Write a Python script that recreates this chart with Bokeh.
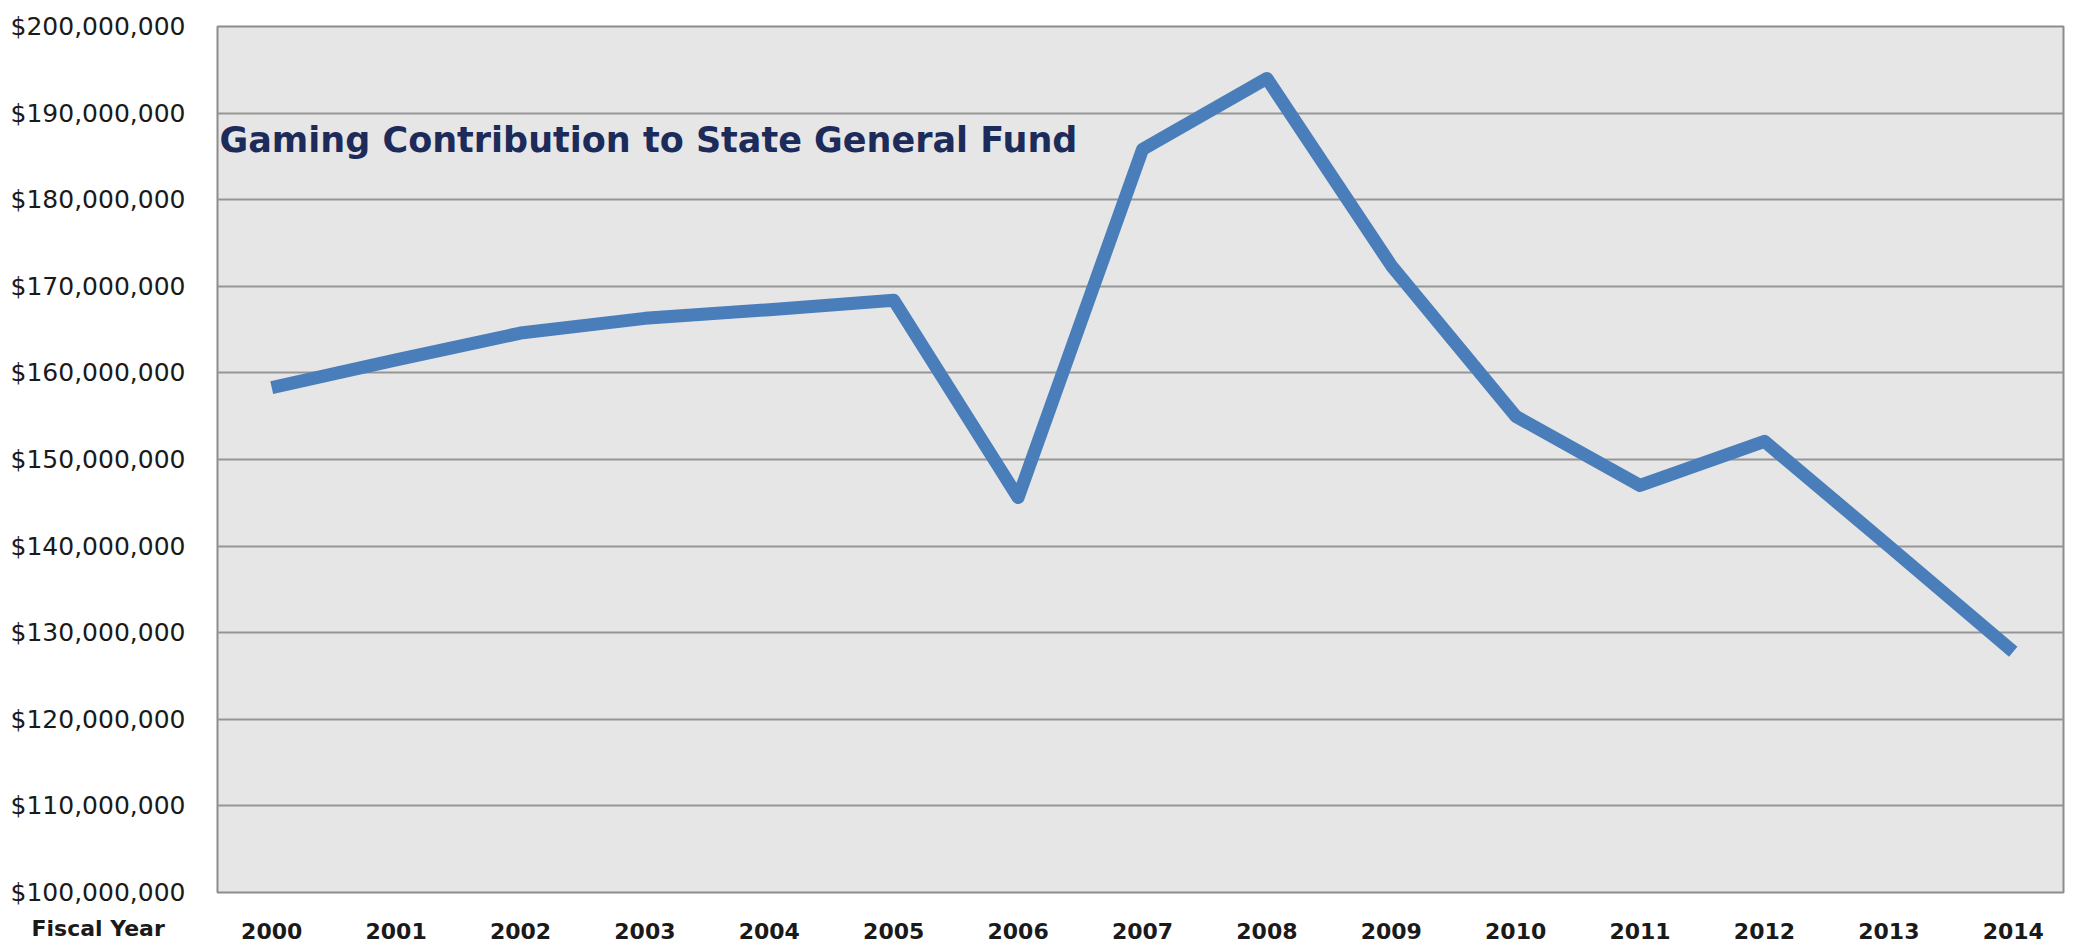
from bokeh.plotting import figure
from bokeh.models import (ColumnDataSource, FixedTicker, NumeralTickFormatter,
                          Label, Range1d, BasicTickFormatter, Title)
from bokeh.embed import file_html
from bokeh.resources import INLINE

years = [2000, 2001, 2002, 2003, 2004, 2005, 2006, 2007, 2008, 2009, 2010, 2011, 2012, 2013, 2014]
contribution = [158.3e6, 161.5e6, 164.6e6, 166.3e6, 167.3e6, 168.4e6, 145.6e6, 185.8e6,
                194.0e6, 172.4e6, 155.0e6, 147.0e6, 152.1e6, 140.0e6, 127.8e6]
y_ticks = [100e6, 110e6, 120e6, 130e6, 140e6, 150e6, 160e6, 170e6, 180e6, 190e6, 200e6]
title_text = "Gaming Contribution to State General Fund"
x_axis_text = "Fiscal Year"

src = ColumnDataSource(dict(year=years, value=contribution))

p = figure(frame_width=1846, frame_height=866, output_backend="svg", toolbar_location=None,
           x_range=Range1d(1999.564, 2014.404), y_range=Range1d(100e6, 200e6),
           min_border_left=217, min_border_right=10, min_border_top=26, min_border_bottom=56)

p.background_fill_color = "#e6e6e6"
p.border_fill_color = "white"
p.outline_line_color = "#8c8c8c"
p.outline_line_width = 2

p.line("year", "value", source=src, line_color="#4a7ebb", line_width=13, line_join="round")

p.xgrid.grid_line_color = None
p.ygrid.grid_line_color = "#959595"
p.ygrid.grid_line_width = 2

p.yaxis.ticker = FixedTicker(ticks=y_ticks)
p.yaxis.formatter = NumeralTickFormatter(format="$0,0")
p.xaxis.ticker = FixedTicker(ticks=years)
p.xaxis.formatter = BasicTickFormatter(use_scientific=False)

for ax in (p.xaxis[0], p.yaxis[0]):
    ax.axis_line_color = None
    ax.major_tick_line_color = None
    ax.minor_tick_line_color = None
    ax.major_tick_out = 0
    ax.major_tick_in = 0
    ax.major_label_text_color = "#1a1a1a"
    ax.major_label_text_font = "DejaVu Sans"

p.yaxis.major_label_text_font_size = "25px"
p.yaxis.major_label_standoff = 32
p.xaxis.major_label_text_font_size = "22px"
p.xaxis.major_label_text_font_style = "bold"
p.xaxis.major_label_standoff = 30

# chart heading inside the plot area
p.add_layout(Label(x=1999.564, y=186.95e6, x_offset=2, text=title_text,
                   text_font="DejaVu Sans", text_font_style="bold", text_font_size="35px",
                   text_color="#1c2b5a", text_baseline="middle", text_align="left"))

# "Fiscal Year" caption beneath the y-axis labels
fy = Title(text=x_axis_text, align="left", vertical_align="top", offset=-186, standoff=-52,
           text_font="DejaVu Sans", text_font_style="bold", text_font_size="22px",
           text_color="#1a1a1a")
p.add_layout(fy, "below")

open("out.html", "w").write(file_html(p, INLINE))
